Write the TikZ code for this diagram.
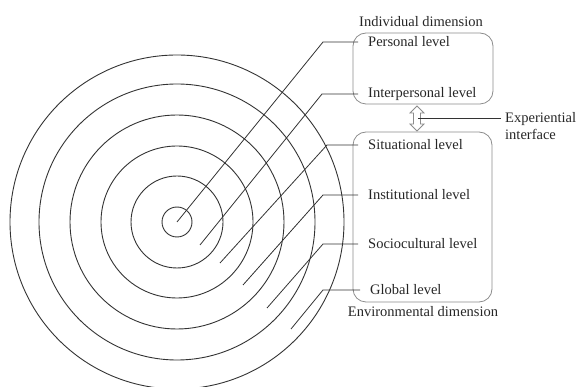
\documentclass[tikz,border=0pt]{standalone}
\usepackage{fontspec}
\setmainfont{Liberation Serif}
\begin{document}
\begin{tikzpicture}[x=1pt,y=-1pt,
  ring/.style={draw=black!80,line width=0.9pt},
  lead/.style={draw=black!80,line width=0.8pt},
  dimbox/.style={draw=black!45,line width=0.8pt,rounded corners=13pt},
  lvl/.style={anchor=west,inner sep=0pt,font=\fontsize{14.5}{16}\selectfont,text=black!85},
  dimlbl/.style={inner sep=0pt,font=\fontsize{14.5}{16}\selectfont,text=black!85}]
\useasboundingbox (0,0) rectangle (579,387);
\coordinate (c) at (177,222);
\foreach \r in {15,46,76,107,138,167}
  \draw[ring] (c) circle (\r);
% boxes
\draw[dimbox] (353,33) rectangle (493,104);
\draw[dimbox] (353,132) rectangle (492,302);
\node[dimlbl] (ind) at (421,22) {Individual dimension};
\node[dimlbl] (env) at (423,312) {Environmental dimension};
% labels
\node[lvl] (l1) at (368,42) {Personal level};
\node[lvl] (l2) at (368,94) {Interpersonal level};
\node[lvl] (l3) at (368,145) {Situational level};
\node[lvl] (l4) at (368,195) {Institutional level};
\node[lvl] (l5) at (368,244) {Sociocultural level};
\node[lvl] (l6) at (370,290) {Global level};
% leader start and bend points
\coordinate (s1) at (177,222); \coordinate (b1) at (323,42);
\coordinate (s2) at (200,245); \coordinate (b2) at (322,94);
\coordinate (s3) at (220,263); \coordinate (b3) at (327,145);
\coordinate (s4) at (243,285); \coordinate (b4) at (323,195);
\coordinate (s5) at (267,308); \coordinate (b5) at (323,244);
\coordinate (s6) at (291,329); \coordinate (b6) at (323,290);
\foreach \i in {1,...,6}
  \draw[lead] (s\i) -- (b\i) -- ([xshift=-10pt]l\i.west);
% double arrow (experiential interface)
\draw[draw=black!45,line width=0.8pt,fill=white]
  (417,106) -- (424,113) -- (420.5,113) -- (420.5,124) -- (424,124) -- (417,131)
  -- (410,124) -- (413.5,124) -- (413.5,113) -- (410,113) -- cycle;
\coordinate (ar) at (418,118);
\node[dimlbl,anchor=west,align=left,font=\fontsize{14.5}{17}\selectfont] (exp) at (505,126) {Experiential\\interface};
\draw[lead] (ar) -- ([xshift=-4pt]exp.west |- ar);
\end{tikzpicture}
\end{document}
